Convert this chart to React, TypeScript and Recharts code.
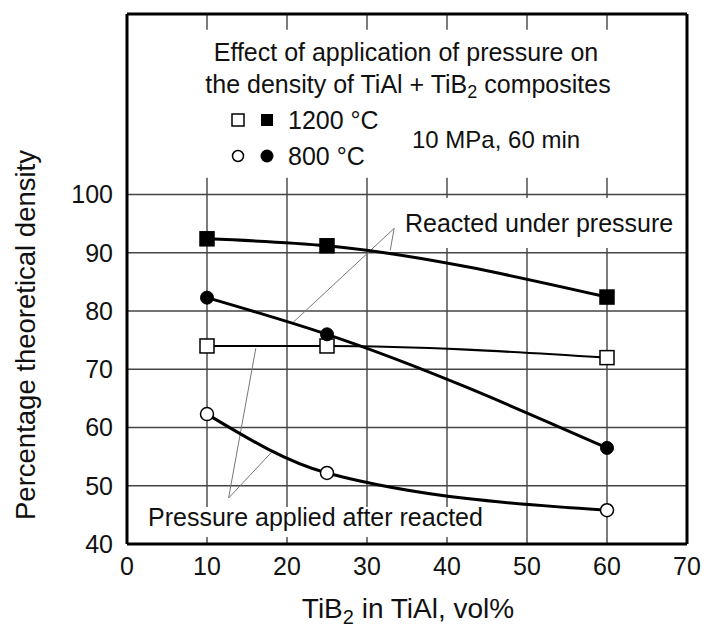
import React from 'react';
import { LineChart, Line, XAxis, YAxis, ReferenceLine } from 'recharts';

const xVals = [10, 25, 60];
const filledSquare = [92.4, 91.2, 82.4];
const openSquare = [74.0, 74.0, 72.0];
const filledCircle = [82.3, 76.0, 56.5];
const openCircle = [62.3, 52.2, 45.8];

const xTicks = [0, 10, 20, 30, 40, 50, 60, 70];
const yTicks = [40, 50, 60, 70, 80, 90, 100];
const gridX = [10, 20, 30, 40, 50, 60];
const Y_TOP = 131;

// leader lines: [apex, end] in data units
const reactedLeaders = [
  [{ x: 33.4, y: 94.2 }, { x: 32.9, y: 90.4 }],
  [{ x: 33.4, y: 94.2 }, { x: 20.8, y: 78.1 }],
];
const afterLeaders = [
  [{ x: 12.7, y: 47.9 }, { x: 16.1, y: 73.6 }],
  [{ x: 12.7, y: 47.9 }, { x: 18.1, y: 55.8 }],
];

const FONT = '"Liberation Sans", Arial, Helvetica, sans-serif';

const data = xVals.map((x, i) => ({
  x,
  fs: filledSquare[i],
  os: openSquare[i],
  fc: filledCircle[i],
  oc: openCircle[i],
}));

const squareDot = (fill: string) => (p: any) => (
  <rect key={p.index} x={p.cx - 7} y={p.cy - 7} width={14} height={14} fill={fill} stroke="#000" strokeWidth={1.5} />
);

const txt = (left: number, top: number, s: string, extra: React.CSSProperties = {}) => (
  <div style={{ position: 'absolute', left, top, fontSize: 25, lineHeight: '30px', whiteSpace: 'nowrap', color: '#111', ...extra }}>{s}</div>
);

export default function App() {
  return (
    <div style={{ position: 'absolute', left: 0, top: 0, width: 718, height: 629, background: '#fff', fontFamily: FONT, overflow: 'hidden' }}>
      <LineChart width={718} height={629} data={data} margin={{ top: 14, right: 31, bottom: 45, left: 47 }}>
        <XAxis dataKey="x" type="number" domain={[0, 70]} ticks={xTicks} height={40} tickLine={false} tickSize={0} tickMargin={13}
          axisLine={{ stroke: '#000', strokeWidth: 3 }} tick={{ fontSize: 25, fill: '#111', fontFamily: FONT }} />
        <YAxis type="number" domain={[40, Y_TOP]} ticks={yTicks} allowDataOverflow width={80} tickLine={false} tickSize={0} tickMargin={14}
          axisLine={{ stroke: '#000', strokeWidth: 3 }} tick={{ fontSize: 25, fill: '#111', fontFamily: FONT }} />
        {yTicks.slice(1).map((v) => (
          <ReferenceLine key={'h' + v} y={v} stroke="#444" strokeWidth={1.4} />
        ))}
        {gridX.map((v) => (
          <ReferenceLine key={'v' + v} segment={[{ x: v, y: 40 }, { x: v, y: 100 }]} stroke="#444" strokeWidth={1.4} />
        ))}
        {gridX.map((v) => (
          <ReferenceLine key={'t' + v} segment={[{ x: v, y: 100 }, { x: v, y: 102.9 }]} stroke="#444" strokeWidth={1.4} />
        ))}
        {gridX.map((v) => (
          <ReferenceLine key={'tt' + v} segment={[{ x: v, y: 128.3 }, { x: v, y: Y_TOP }]} stroke="#444" strokeWidth={1.4} />
        ))}
        <ReferenceLine y={Y_TOP} stroke="#000" strokeWidth={3} />
        <ReferenceLine x={70} stroke="#000" strokeWidth={3} />
        {[...reactedLeaders, ...afterLeaders].map((s, i) => (
          <ReferenceLine key={'l' + i} segment={s} stroke="#777" strokeWidth={1} />
        ))}
        <Line dataKey="fs" type="monotone" stroke="#000" strokeWidth={3} dot={squareDot('#000')} isAnimationActive={false} />
        <Line dataKey="os" type="monotone" stroke="#000" strokeWidth={2.2} dot={squareDot('#fff')} isAnimationActive={false} />
        <Line dataKey="fc" type="monotone" stroke="#000" strokeWidth={3} dot={{ r: 6.5, fill: '#000', stroke: '#000', strokeWidth: 1 }} isAnimationActive={false} />
        <Line dataKey="oc" type="monotone" stroke="#000" strokeWidth={3} dot={{ r: 6.5, fill: '#fff', stroke: '#000', strokeWidth: 1.5 }} isAnimationActive={false} />
      </LineChart>

      {/* annotations */}
      <div style={{ position: 'absolute', left: 0, top: 0, width: 718, height: 629, pointerEvents: 'none' }}>
        {txt(106, 37, 'Effect of application of pressure on', { width: 600, textAlign: 'center' })}
        <div style={{ position: 'absolute', left: 108, top: 69, width: 600, textAlign: 'center', fontSize: 25, lineHeight: '30px', whiteSpace: 'nowrap', color: '#111' }}>
          the density of TiAl + TiB<sub style={{ fontSize: 18, verticalAlign: '-5px', lineHeight: 0 }}>2</sub> composites
        </div>
        {txt(288, 105, '1200 °C')}
        {txt(288, 141, '800 °C')}
        {txt(412, 125, '10 MPa, 60 min', { fontSize: 24 })}
        <div style={{ position: 'absolute', left: 398, top: 198, width: 284, height: 50, background: '#fff' }} />
        {txt(405, 208, 'Reacted under pressure')}
        <div style={{ position: 'absolute', left: 140, top: 507, width: 347, height: 30, background: '#fff' }} />
        {txt(148, 502, 'Pressure applied after reacted')}
        <div style={{ position: 'absolute', left: 108, top: 593, width: 600, textAlign: 'center', fontSize: 28, lineHeight: '32px', whiteSpace: 'nowrap', color: '#111' }}>
          TiB<sub style={{ fontSize: 20, verticalAlign: '-6px', lineHeight: 0 }}>2</sub> in TiAl, vol%
        </div>
        <svg width={718} height={629} style={{ position: 'absolute', left: 0, top: 0 }}>
          <rect x={232} y={114} width={12} height={12} fill="#fff" stroke="#000" strokeWidth={1.5} />
          <rect x={261} y={114} width={12} height={12} fill="#000" />
          <circle cx={238} cy={156} r={5.5} fill="#fff" stroke="#000" strokeWidth={1.5} />
          <circle cx={267} cy={156} r={6.5} fill="#000" />
          <text x={25} y={335} transform="rotate(-90 25 335)" textAnchor="middle" dominantBaseline="central"
            fontSize={27.5} fill="#111" fontFamily={FONT}>Percentage theoretical density</text>
        </svg>
      </div>
    </div>
  );
}
